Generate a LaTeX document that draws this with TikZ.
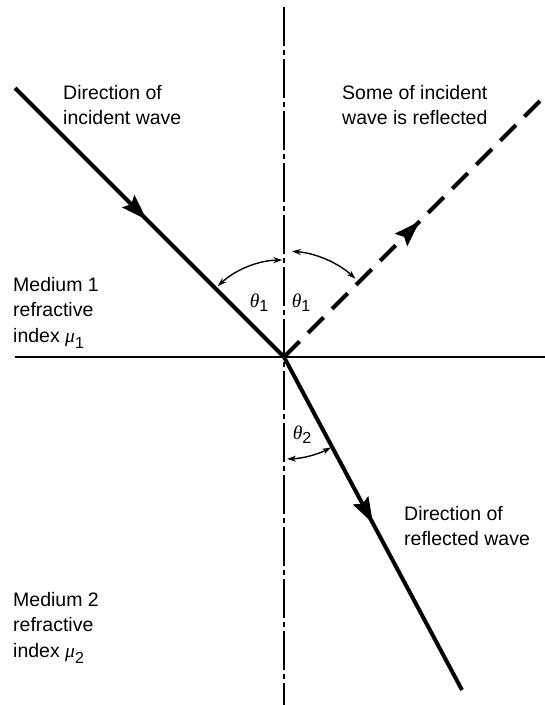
\documentclass[tikz,border=0pt]{standalone}
\usepackage{fontspec}
\setmainfont{Liberation Sans}
\newfontfamily\grk{Liberation Serif}
\usetikzlibrary{arrows.meta,decorations.markings}
\newcommand{\thsym}[1]{{\grk\itshape θ}\raisebox{-0.22em}{\fontsize{16}{16}\selectfont #1}}
\newcommand{\musym}[1]{{\grk\itshape μ}\raisebox{-0.3em}{\fontsize{16}{16}\selectfont #1}}
\begin{document}
\begin{tikzpicture}[x=1pt,y=-1pt,
  lbl/.style={anchor=north west,align=left,inner sep=0pt,font=\fontsize{19.5}{25.5}\selectfont},
  ang/.style={inner sep=0pt,font=\fontsize{19.5}{25.5}\selectfont},
  ray/.style={line width=4pt},
  axisline/.style={line width=1.5pt,dash pattern=on 39pt off 4pt on 5pt off 4pt},
  anglearc/.style={line width=1.4pt,{Stealth[length=9pt,width=6pt]}-{Stealth[length=9pt,width=6pt]}},
  midarrow/.style={postaction={decorate},decoration={markings,mark=at position #1 with {\arrow{Stealth[length=26pt,width=17pt,inset=4pt]}}}}
]
\useasboundingbox (0,0) rectangle (545,705);
\coordinate (O) at (284,357);
\coordinate (Vtop) at (284,7);
\coordinate (Vbot) at (284,705);
\coordinate (Hl) at (15,357);
\coordinate (Hr) at (545,357);
\coordinate (I) at (15,88);
\coordinate (R) at (545,96);
\coordinate (T) at (462,690);
% normal and surface
\draw[axisline] (Vtop) -- (Vbot);
\draw[line width=2pt] (Hl) -- (Hr);
% rays
\draw[ray,midarrow=0.49] (I) -- (O);
\draw[ray,dash pattern=on 22pt off 12pt,midarrow=0.52] (O) -- (R);
\draw[ray,midarrow=0.5] (O) -- (T);
% angle arcs
\draw[anglearc] (O) ++(-91:97) arc[start angle=-91,end angle=-133,radius=97];
\draw[anglearc] (O) ++(-85.7:106) arc[start angle=-85.7,end angle=-47.6,radius=106];
\draw[anglearc] (O) ++(88.3:102) arc[start angle=88.3,end angle=62.5,radius=102];
% angle labels
\node[ang] (t1l) at (259,303) {\thsym{1}};
\node[ang] (t1r) at (301,303) {\thsym{1}};
\node[ang] (t2) at (302,435) {\thsym{2}};
% text labels
\node[lbl] (inc) at (63,85) {Direction of\\incident wave};
\node[lbl] (refl) at (342,85) {Some of incident\\wave is reflected};
\node[lbl] (m1) at (13,277) {Medium 1\\refractive\\index \musym{1}};
\node[lbl] (refr) at (404,506) {Direction of\\reflected wave};
\node[lbl] (m2) at (13,592) {Medium 2\\refractive\\index \musym{2}};
\end{tikzpicture}
\end{document}
